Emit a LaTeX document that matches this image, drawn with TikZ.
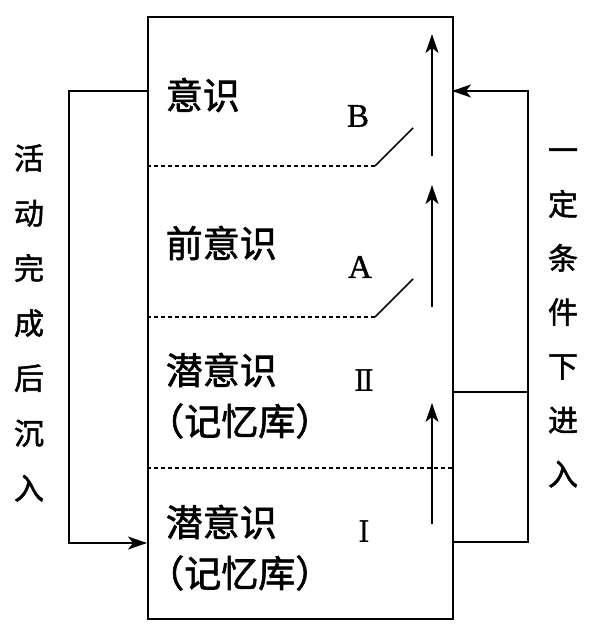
\documentclass[tikz,border=0pt]{standalone}
\usepackage{fontspec}
\setmainfont{Liberation Serif}[FakeBold=1]
\newfontfamily\cjk{Noto Sans CJK SC}[FakeBold=1.6]
\newfontfamily\cjkhalf{Noto Sans CJK SC}[FakeBold=1.6, RawFeature={+halt}]
\newfontfamily\romfont{DejaVu Serif}
\usetikzlibrary{arrows.meta, positioning}

\begin{document}
\begin{tikzpicture}[
    x=1pt, y=-1pt,
    >={Stealth[length=19pt, width=13pt, inset=5pt]},
    line width=1.6pt,
    layer/.style={anchor=west, inner sep=0pt, font=\cjk\fontsize{37}{40}\selectfont},
    side/.style={align=center, inner sep=0pt, font=\cjk\fontsize{30}{55}\selectfont},
    letter/.style={inner sep=0pt, font=\fontsize{33}{35}\selectfont},
    sep/.style={dash pattern=on 4pt off 3pt, line width=1.2pt}
  ]
  \useasboundingbox (0,0) rectangle (591,626);

  % ---- box ----
  \node[draw, anchor=north west, inner sep=0pt, minimum width=305pt, minimum height=602pt] (box) at (147,16) {};

  % Layers
  \node[layer] (consc)  at (165,95)  {意识};
  \node[layer] (precon) at (165,243) {前意识};
  \node[layer] (subII)  at (165,370) {潜意识};
  \node[layer, font=\cjkhalf\fontsize{37}{40}\selectfont] (memII) at (165,421) {（记忆库）};
  \node[layer] (subI)   at (165,522) {潜意识};
  \node[layer, font=\cjkhalf\fontsize{37}{40}\selectfont] (memI) at (165,573) {（记忆库）};

  % Separators and switches
  \coordinate (sepB) at (147,166);
  \coordinate (swB)  at (375,166);
  \coordinate (sepA) at (147,317);
  \coordinate (swA)  at (375,317);
  \draw[sep] (sepB) -- (swB);
  \draw (swB) -- ++(38,-38);
  \draw[sep] (sepA) -- (swA);
  \draw (swA) -- ++(38,-38);
  \draw[sep] (147,468) -- (452,468);

  \node[letter] (B) at (358,116) {B};
  \node[letter] (A) at (360,267) {A};
  \node[inner sep=0pt, font=\romfont\fontsize{30}{32}\selectfont] (two) at (364,381) {Ⅱ};
  \node[inner sep=0pt, font=\romfont\fontsize{30}{32}\selectfont] (one) at (364,532) {Ⅰ};

  % Rising arrows
  \draw[->] (432,156) -- (432,34);
  \draw[->] (432,307) -- (432,185);
  \draw[->] (432,524) -- (432,403);

  % ---- loops ----
  \coordinate (outL)  at (147,91);
  \coordinate (inL)   at (147,543);
  \draw[->] (outL) -- ++(-78,0) |- (inL);

  \coordinate (inR)   at (452,91);
  \coordinate (riser) at (528,91);
  \coordinate (outII) at (452,392);
  \coordinate (outI)  at (452,542);
  \draw[->] (outI) -| (riser) -- (inR);
  \draw (outII) -- (outII -| riser);

  % Side labels
  \node[side] (sink)  at (29,323)  {活\\动\\完\\成\\后\\沉\\入};
  \node[side, font=\cjk\fontsize{30}{54}\selectfont] (enter) at (563,318) {一\\定\\条\\件\\下\\进\\入};
\end{tikzpicture}
\end{document}
